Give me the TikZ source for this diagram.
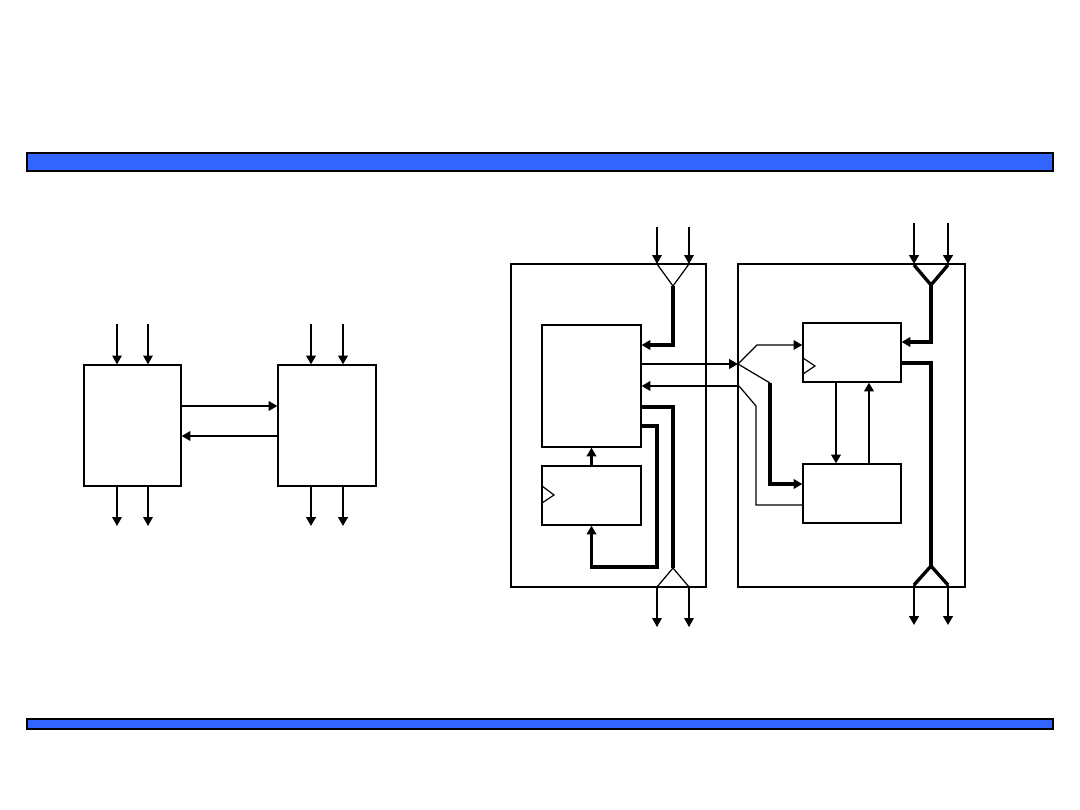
\documentclass[tikz,border=0pt]{standalone}
\usetikzlibrary{arrows.meta,fit}
\definecolor{barblue}{HTML}{3366FF}
\tikzset{
  blk/.style={draw, line width=0.7pt, inner sep=0pt},
  sig/.style={line width=0.7pt},
  med/.style={line width=1.2pt},
  bus/.style={line width=1.9pt},
  tip/.style={-{Triangle[length=5pt,width=5.4pt]}}
}
\begin{document}
\begin{tikzpicture}[x=0.02cm,y=-0.02cm]
  \useasboundingbox (0,0) rectangle (1080,810);

  % title bars
  \filldraw[fill=barblue, line width=1pt] (27,153) rectangle (1053,171);
  \filldraw[fill=barblue, line width=1pt] (27,719) rectangle (1053,729);

  % left: two blocks
  \node[blk, fit={(84,365) (181,486)}] (unitA) {};
  \node[blk, fit={(278,365) (376,486)}] (unitB) {};
  \foreach \x in {117,148} {
    \draw[sig,tip] (\x,324) -- (\x,0 |- unitA.north);
    \draw[sig,tip] (\x,0 |- unitA.south) -- (\x,526);
  }
  \foreach \x in {311,343} {
    \draw[med,tip] (\x,324) -- (\x,0 |- unitB.north);
    \draw[med,tip] (\x,0 |- unitB.south) -- (\x,526);
  }
  \draw[med,tip] (unitA.east |- 0,406) -- (unitB.west |- 0,406);
  \draw[med,tip] (unitB.west |- 0,436) -- (unitA.east |- 0,436);

  % right: outer frames
  \node[blk, fit={(511,264) (706,587)}] (frameL) {};
  \node[blk, fit={(738,264) (965,587)}] (frameR) {};
  \node[blk, fit={(542,325) (641,447)}] (mem) {};
  \node[blk, fit={(542,466) (641,525)}] (reg) {};
  \node[blk, fit={(803,323) (901,382)}] (regR) {};
  \node[blk, fit={(803,464) (901,523)}] (logic) {};

  % clock marks
  \draw[sig] (542,486) -- (554,495) -- (542,503);
  \draw[sig] (803,358) -- (815,366) -- (803,374);

  % left frame, inputs
  \coordinate (joinIn) at (673,286);
  \foreach \x in {657,689} \draw[sig,tip] (\x,227) -- (\x,264);
  \draw[sig] (657,264) -- (joinIn) -- (689,264);
  \draw[bus,tip] (joinIn) -- (673,345) -- (mem.east |- 0,345);

  % left frame, outputs
  \coordinate (joinOut) at (673,568);
  \draw[bus] (mem.east |- 0,407) -- (673,407) -- (joinOut);
  \draw[sig] (657,587) -- (joinOut) -- (689,587);
  \foreach \x in {657,689} \draw[sig,tip] (\x,587) -- (\x,627);

  % feedback
  \draw[bus,tip] (mem.east |- 0,426) -- (657,426) -- (657,567) -- (reg.south |- 0,567) -- (reg.south);
  \draw[bus,tip] (reg.north) -- (mem.south);

  % links between frames
  \coordinate (split) at (738,364);
  \draw[med,tip] (mem.east |- 0,364) -- (split);
  \draw[sig,tip] (split) -- (757,345) -- (regR.west |- 0,345);
  \draw[sig] (split) -- (770,383);
  \draw[bus,tip] (770,383) -- (770,484) -- (logic.west |- 0,484);
  \draw[sig] (logic.west |- 0,505) -- (756,505) -- (756,406) -- (739,386);
  \draw[med,tip] (739,386) -- (mem.east |- 0,386);

  % right frame, inputs
  \coordinate (joinInR) at (931,285);
  \foreach \x in {914,948} \draw[med,tip] (\x,223) -- (\x,264);
  \draw[bus] (914,265) -- (joinInR) -- (948,265);
  \draw[bus,tip] (joinInR) -- (931,342) -- (regR.east |- 0,342);

  % right frame, outputs
  \coordinate (joinOutR) at (931,566);
  \draw[bus] (regR.east |- 0,363) -- (931,363) -- (joinOutR);
  \draw[bus] (914,585) -- (joinOutR) -- (948,585);
  \foreach \x in {914,948} \draw[med,tip] (\x,585) -- (\x,625);

  % register <-> logic
  \draw[med,tip] (836,0 |- regR.south) -- (836,0 |- logic.north);
  \draw[med,tip] (869,0 |- logic.north) -- (869,0 |- regR.south);
\end{tikzpicture}
\end{document}
